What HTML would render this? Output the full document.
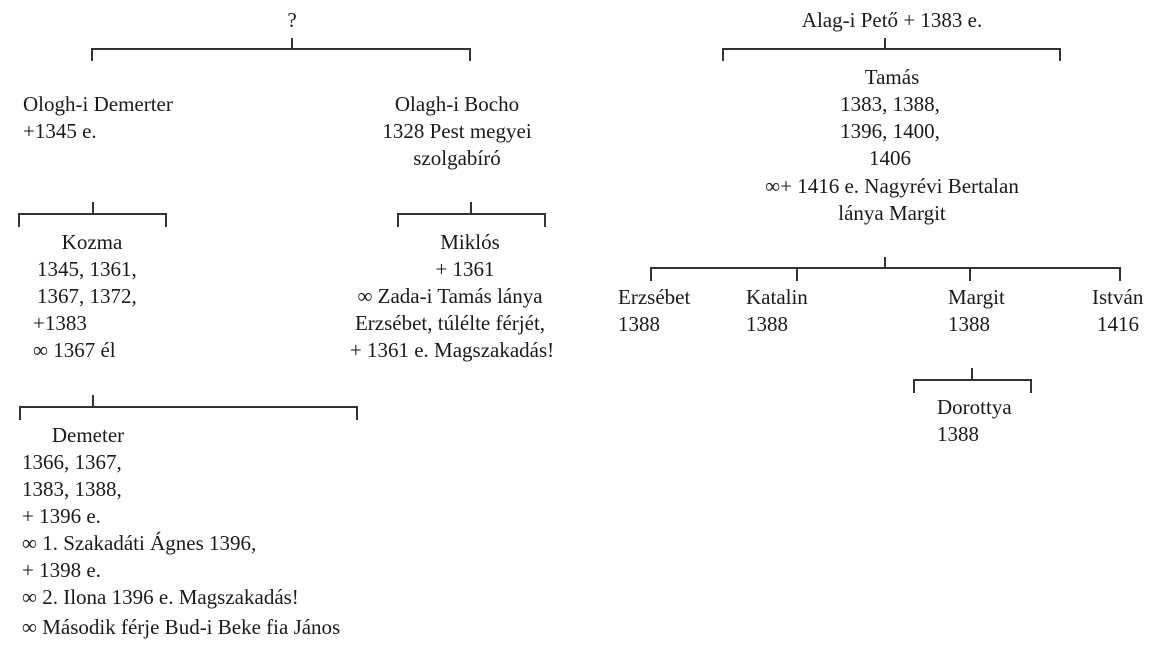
<!DOCTYPE html>
<html><head><meta charset="utf-8"><style>
body{margin:0;background:#fff;width:1166px;height:652px;position:relative;overflow:hidden}
.t{position:absolute;white-space:nowrap;font-family:"Liberation Serif",serif;font-size:21px;line-height:27px;color:#1a1a1a}
.c{transform:translateX(-50%)}
svg{position:absolute;left:0;top:0}
</style></head><body>
<svg width="1166" height="652" stroke="#333" stroke-width="2" fill="none">
<path d="M292 38V49M92 61V49H470V61"/>
<path d="M93 202V214M19 227V214H166V227"/>
<path d="M471 202V214M398 227V214H545V227"/>
<path d="M93 395V407M20 420V407H357V420"/>
<path d="M885 38V49M723 61V49H1060V61"/>
<path d="M885 257V268M651 281V268H1120V281M797 268V281M970 268V281"/>
<path d="M972 368V380M914 393V380H1031V393"/>
</svg>
<div class="t c" style="left:292px;top:7px">?</div>
<div class="t" style="left:23px;top:91px">Ologh-i Demerter</div>
<div class="t" style="left:23px;top:118px">+1345 e.</div>
<div class="t c" style="left:457px;top:91px">Olagh-i Bocho</div>
<div class="t c" style="left:457px;top:118px">1328 Pest megyei</div>
<div class="t c" style="left:457px;top:145px">szolgabíró</div>
<div class="t c" style="left:92px;top:229px">Kozma</div>
<div class="t" style="left:37px;top:256px">1345, 1361,</div>
<div class="t" style="left:37px;top:283px">1367, 1372,</div>
<div class="t" style="left:33px;top:310px">+1383</div>
<div class="t" style="left:33px;top:337px">∞ 1367 él</div>
<div class="t c" style="left:470px;top:229px">Miklós</div>
<div class="t c" style="left:465px;top:256px">+ 1361</div>
<div class="t c" style="left:450px;top:283px">∞ Zada-i Tamás lánya</div>
<div class="t c" style="left:450px;top:310px">Erzsébet, túlélte férjét,</div>
<div class="t c" style="left:452px;top:337px">+ 1361 e. Magszakadás!</div>
<div class="t c" style="left:88px;top:422px">Demeter</div>
<div class="t" style="left:22px;top:449px">1366, 1367,</div>
<div class="t" style="left:22px;top:476px">1383, 1388,</div>
<div class="t" style="left:22px;top:503px">+ 1396 e.</div>
<div class="t" style="left:22px;top:530px">∞ 1. Szakadáti Ágnes 1396,</div>
<div class="t" style="left:22px;top:557px">+ 1398 e.</div>
<div class="t" style="left:22px;top:584px">∞ 2. Ilona 1396 e. Magszakadás!</div>
<div class="t" style="left:22px;top:614px">∞ Második férje Bud-i Beke fia János</div>
<div class="t c" style="left:892px;top:7px">Alag-i Pető + 1383 e.</div>
<div class="t c" style="left:892px;top:64px">Tamás</div>
<div class="t c" style="left:890px;top:91px">1383, 1388,</div>
<div class="t c" style="left:890px;top:118px">1396, 1400,</div>
<div class="t c" style="left:890px;top:145px">1406</div>
<div class="t c" style="left:892px;top:173px">∞+ 1416 e. Nagyrévi Bertalan</div>
<div class="t c" style="left:892px;top:200px">lánya Margit</div>
<div class="t" style="left:618px;top:284px">Erzsébet</div>
<div class="t" style="left:618px;top:311px">1388</div>
<div class="t" style="left:746px;top:284px">Katalin</div>
<div class="t" style="left:746px;top:311px">1388</div>
<div class="t" style="left:948px;top:284px">Margit</div>
<div class="t" style="left:948px;top:311px">1388</div>
<div class="t" style="left:1092px;top:284px">István</div>
<div class="t" style="left:1097px;top:311px">1416</div>
<div class="t" style="left:937px;top:394px">Dorottya</div>
<div class="t" style="left:937px;top:421px">1388</div>
</body></html>
